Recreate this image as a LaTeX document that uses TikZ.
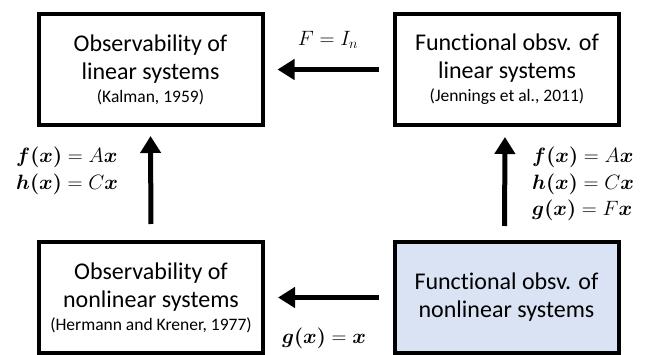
\documentclass[tikz,border=0pt]{standalone}
\usepackage{amsmath,bm}
\usepackage{fontspec}
\setmainfont{Carlito}[Ligatures=NoCommon]
\usetikzlibrary{arrows.meta}
\definecolor{boxblue}{HTML}{DAE3F3}
\tikzset{
  sysbox/.style={draw=black, line width=4pt, minimum width=224pt, minimum height=111pt, align=center, inner sep=0pt,
    font=\fontsize{24}{28}\selectfont},
  arr/.style={line width=5pt, -{Triangle[length=17pt,width=20pt]}},
  mlabel/.style={font=\fontsize{21.5}{26.5}\selectfont, inner sep=0pt},
}
\newcommand{\refnote}[1]{\\[-5pt]{\fontsize{17.5}{20}\selectfont #1}}
\begin{document}
\begin{tikzpicture}[x=1pt,y=-1pt]
\useasboundingbox (0,0) rectangle (656,355);
\node[sysbox] (TL) at (150.5,69.5) {Observability of\\linear systems\refnote{(Kalman, 1959)}};
\node[sysbox] (TR) at (507,69.5) {Functional obsv. of\\linear systems\refnote{(Jennings et al., 2011)}};
\node[sysbox] (BL) at (151,297.5) {Observability of\\nonlinear systems\refnote{(Hermann and Krener, 1977)}};
\node[sysbox, fill=boxblue] (BR) at (506.5,297.5) {Functional obsv. of\\nonlinear systems};
\draw[arr, shorten <=14pt, shorten >=13pt] (TR.west) -- (TL.east);
\draw[arr, shorten <=14pt, shorten >=13pt] (BR.west) -- (BL.east);
\draw[arr, shorten <=16pt, shorten >=9pt] (BL.north) -- (TL.south);
\draw[arr, shorten <=14pt, shorten >=10pt] ([xshift=-2pt]BR.north) -- ([xshift=-2pt]TR.south);
\node[mlabel] (lF) at (328,40) {$F = I_n$};
\node[mlabel] (lg) at (324,338) {$\bm{g(x)} = \bm{x}$};
\node[mlabel, anchor=west, align=left] (lL) at (16,171) {$\bm{f(x)} = A\bm{x}$\\$\bm{h(x)} = C\bm{x}$};
\node[mlabel, anchor=west, align=left] (lR) at (532,184) {$\bm{f(x)} = A\bm{x}$\\$\bm{h(x)} = C\bm{x}$\\$\bm{g(x)} = F\bm{x}$};
\end{tikzpicture}
\end{document}
